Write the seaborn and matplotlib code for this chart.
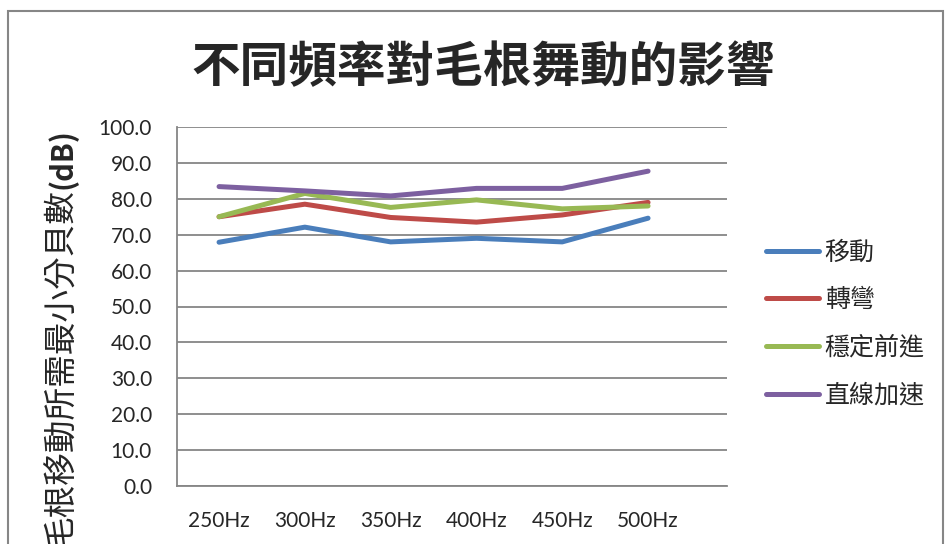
import matplotlib
matplotlib.use('Agg')
import matplotlib.pyplot as plt
import matplotlib.patches as mpatches
import seaborn as sns
import pandas as pd

# Values
freqs = ['250Hz', '300Hz', '350Hz', '400Hz', '450Hz', '500Hz']
move = [67.9, 72.1, 68.0, 69.0, 68.0, 74.6]
turn = [75.0, 78.5, 74.8, 73.5, 75.5, 79.0]
forward = [75.0, 81.5, 77.6, 79.7, 77.2, 78.0]
accel = [83.4, 82.2, 80.8, 82.9, 82.9, 87.7]
series_names = ['移動', '轉彎', '穩定前進', '直線加速']
colors = ['#4A7EBB', '#BE4B48', '#98B954', '#7D60A0']

rows = []
for name, vals in zip(series_names, [move, turn, forward, accel]):
    for i, v in enumerate(vals):
        rows.append({'idx': i, 'val': v, 'series': name})
df = pd.DataFrame(rows)

sns.set_style('white')
plt.rcParams['font.family'] = ['Noto Sans CJK TC', 'DejaVu Sans']

fig = plt.figure(figsize=(9.46, 5.44), dpi=100)
ax = fig.add_axes([177 / 946, 58 / 544, 550 / 946, 359 / 544])

sns.lineplot(data=df, x='idx', y='val', hue='series', hue_order=series_names,
             palette=colors, linewidth=3.6, ax=ax, legend=True)
for ln in ax.get_lines():
    ln.set_solid_capstyle('round')
    ln.set_solid_joinstyle('round')

ax.set_ylim(0, 100)
ax.set_yticks(range(0, 101, 10))
ax.set_yticklabels([f'{v:.1f}' for v in range(0, 101, 10)], family='Lato', fontsize=15)
ax.set_xlim(-0.49, 5.92)
ax.set_xticks(range(len(freqs)))
ax.set_xticklabels(freqs, family='Lato', fontsize=15)
ax.tick_params(axis='y', length=0, pad=18)
ax.tick_params(axis='x', length=0, pad=18)
ax.set_xlabel('')
ax.set_ylabel('')
ax.grid(axis='y', color='#868686', linewidth=1.3)
ax.set_axisbelow(True)
for side in ['top', 'right']:
    ax.spines[side].set_visible(False)
for side in ['left', 'bottom']:
    ax.spines[side].set_color('#868686')
    ax.spines[side].set_linewidth(1.3)

handles, labels = ax.get_legend_handles_labels()
leg = ax.legend(handles, labels, loc='center left', bbox_to_anchor=(766 / 946, 1 - 324 / 544),
                bbox_transform=fig.transFigure, frameon=False, fontsize=18,
                handlelength=2.1, handletextpad=0.25, labelspacing=0.87,
                borderpad=0, borderaxespad=0)
for h in leg.get_lines():
    h.set_linewidth(3.6)
    h.set_solid_capstyle('round')

fig.text(483 / 946, 1 - 68 / 544, '不同頻率對毛根舞動的影響', ha='center', va='center',
         fontsize=35, fontweight='bold')

ylab = fig.text(62 / 946, -4 / 544, '毛根移動所需最小分貝數', rotation=90, ha='center', va='bottom',
                fontsize=23.5)
fig.canvas.draw()
ax.annotate('(dB)', xy=(0.5, 1.0), xycoords=ylab, rotation=90, ha='center', va='bottom',
            fontsize=21, fontweight='bold', annotation_clip=False)

border = mpatches.Rectangle((8 / 946, -0.1), 935 / 946, 1 - 11 / 544 + 0.1,
                            transform=fig.transFigure, fill=False, edgecolor='#868686',
                            linewidth=1.5, clip_on=False)
fig.patches.append(border)

fig.savefig('out.png', dpi=100)
